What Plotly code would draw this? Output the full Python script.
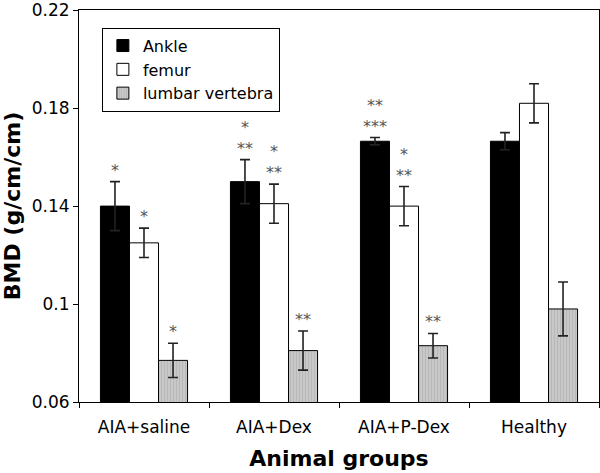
import plotly.graph_objects as go

groups = ["AIA+saline", "AIA+Dex", "AIA+P-Dex", "Healthy"]
ankle = [0.140, 0.150, 0.1665, 0.1665]
ankle_err = [0.010, 0.009, 0.0015, 0.0035]
femur = [0.125, 0.141, 0.140, 0.182]
femur_err = [0.006, 0.008, 0.008, 0.008]
lumbar = [0.077, 0.081, 0.083, 0.098]
lumbar_err = [0.007, 0.008, 0.005, 0.011]
ankle_sig = ["*", "*<br>**", "**<br>***", ""]
femur_sig = ["*", "*<br>**", "*<br>**", ""]
lumbar_sig = ["*", "**", "**", ""]
yticks = [0.06, 0.1, 0.14, 0.18, 0.22]
ytick_text = ["0.06", "0.1", "0.14", "0.18", "0.22"]

FONT = "DejaVu Sans"
err_style = dict(type="data", color="#222222", thickness=1.6, width=5)

fig = go.Figure()
fig.add_trace(go.Bar(name="Ankle", x=groups, y=ankle,
                     error_y=dict(array=ankle_err, **err_style),
                     marker=dict(color="black", line=dict(color="black", width=1))))
fig.add_trace(go.Bar(name="femur", x=groups, y=femur,
                     error_y=dict(array=femur_err, **err_style),
                     marker=dict(color="white", line=dict(color="black", width=1))))
fig.add_trace(go.Bar(name="lumbar vertebra", x=groups, y=lumbar,
                     error_y=dict(array=lumbar_err, **err_style),
                     marker=dict(color="#c4c4c4", line=dict(color="black", width=1),
                                 pattern=dict(shape="|", fgcolor="#a8a8a8", bgcolor="#c8c8c8",
                                              size=3, solidity=0.35))))

bar_px = 29
annotations = []
for series, errs, sigs, shift in [(ankle, ankle_err, ankle_sig, -bar_px),
                                  (femur, femur_err, femur_sig, 0),
                                  (lumbar, lumbar_err, lumbar_sig, bar_px)]:
    for g, v, e, s in zip(groups, series, errs, sigs):
        if s:
            annotations.append(dict(x=g, y=v + e, text=s, showarrow=False,
                                    xshift=shift, yshift=0, yanchor="bottom",
                                    font=dict(family=FONT, size=16, color="#555555"),
                                    align="center"))

fig.update_layout(
    width=600, height=473,
    margin=dict(l=79, r=1, t=10, b=71),
    barmode="group", bargap=0.33, bargroupgap=0,
    plot_bgcolor="white", paper_bgcolor="white",
    font=dict(family=FONT, color="black"),
    annotations=annotations,
    legend=dict(x=0.044, y=0.955, xanchor="left", yanchor="top",
                bordercolor="black", borderwidth=1, bgcolor="white",
                font=dict(family=FONT, size=16), tracegroupgap=0,
                itemwidth=30),
    xaxis=dict(showline=True, linecolor="black", linewidth=1, mirror=True,
               automargin=False,
               ticks="outside", ticklen=5, tickcolor="black", tickson="boundaries",
               ticklabelstandoff=10,
               tickfont=dict(family=FONT, size=17),
               title=dict(text="<b>Animal groups</b>", font=dict(family=FONT, size=22), standoff=14)),
    yaxis=dict(range=[0.06, 0.2201], tickvals=yticks, ticktext=ytick_text,
               automargin=False, ticklabeloverflow="allow",
               showgrid=False, zeroline=False,
               showline=True, linecolor="black", linewidth=1, mirror=True,
               ticks="outside", ticklen=5, tickcolor="black",
               tickfont=dict(family=FONT, size=17),
               title=dict(text="<b>BMD (g/cm/cm)</b>", font=dict(family=FONT, size=22), standoff=6)),
)

fig.write_html("out.html", config={"displayModeBar": False},
               post_script="document.body.style.margin='0px';")
